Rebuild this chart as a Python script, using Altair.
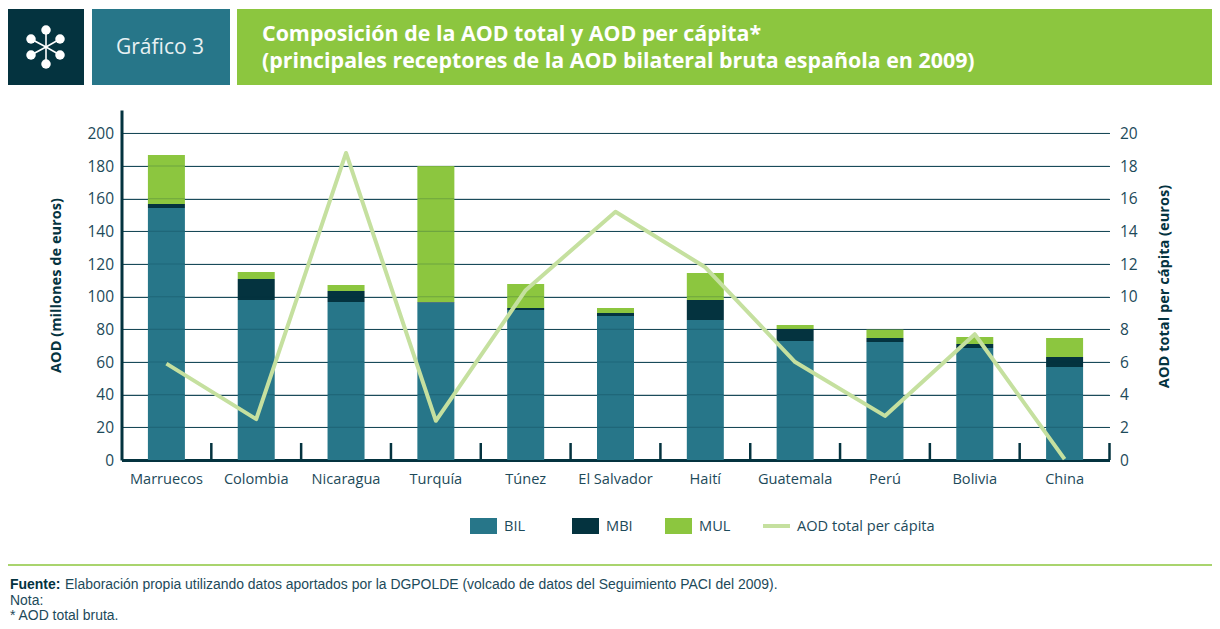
import altair as alt
import pandas as pd

countries = ["Marruecos", "Colombia", "Nicaragua", "Turquía", "Túnez", "El Salvador", "Haití", "Guatemala", "Perú", "Bolivia", "China"]
bil = [154.3, 98, 96.8, 96.5, 91.9, 88.2, 85.7, 72.9, 72.3, 68.6, 57]
mbi = [2.5, 12.8, 6.7, 0.3, 1.2, 1.8, 12.3, 7.3, 2.4, 2.4, 6]
mul = [30, 4.3, 3.7, 83.2, 14.7, 3.1, 16.5, 2.5, 5.2, 4.3, 11.7]
per_capita = [5.9, 2.5, 18.8, 2.4, 10.4, 15.2, 11.8, 6.0, 2.7, 7.7, 0.05]
series = ["BIL", "MBI", "MUL"]
line_name = "AOD total per cápita"
left_ticks = list(range(0, 201, 20))
right_ticks = list(range(0, 21, 2))

DARK = "#04333f"
TEAL = "#277689"
GREEN = "#8cc63f"
LINE = "#c5e09f"
TEXT = "#1d4a5a"
FONT = "Open Sans"
NOTE_FONT = "Liberation Sans"

OX, OY = 121.5, 110
def px(v): return alt.value(v - OX)
def py(v): return alt.value(v - OY)

rows = []
for i, c in enumerate(countries):
    for j, (s, vals) in enumerate(zip(series, [bil, mbi, mul])):
        rows.append({"pais": c, "serie": s, "valor": vals[i], "ord": j})
bars_df = pd.DataFrame(rows)
line_df = pd.DataFrame({"pais": countries, "aod": per_capita})
x_axis = alt.Axis(title=None, labelAngle=0, ticks=False, labelFontSize=14.6, labelColor=TEXT,
                  labelFont=FONT, labelPadding=11, domainColor=DARK, domainWidth=3, grid=False)
x_enc = alt.X("pais:N", sort=countries, scale=alt.Scale(padding=0), axis=x_axis)

bars = alt.Chart(bars_df).mark_bar(size=37).encode(
    x=x_enc,
    y=alt.Y("valor:Q", stack="zero", scale=alt.Scale(domain=[0, 214.3], nice=False),
            axis=alt.Axis(title=None, values=left_ticks, ticks=False, labelFontSize=15.5, labelColor=TEXT, labelFont=FONT,
                          labelPadding=8, domainColor=DARK, domainWidth=3, grid=True, gridColor="#1d4f5e", gridWidth=1.1)),
    color=alt.Color("serie:N", scale=alt.Scale(domain=series, range=[TEAL, DARK, GREEN]), legend=None),
    order=alt.Order("ord:Q"),
)

grid_over = alt.Chart(pd.DataFrame({"v": left_ticks[1:]})).mark_rule(color=DARK, strokeWidth=1.1, opacity=0.22).encode(
    y=alt.Y("v:Q", scale=alt.Scale(domain=[0, 214.3], nice=False), axis=None),
)

line = alt.Chart(line_df).mark_line(color=LINE, strokeWidth=4, strokeJoin="round").encode(
    x=x_enc,
    y=alt.Y("aod:Q", scale=alt.Scale(domain=[0, 21.43], nice=False),
            axis=alt.Axis(title=None, orient="right", values=right_ticks, ticks=False, domain=False, grid=False,
                          labelFontSize=15.5, labelColor=TEXT, labelFont=FONT, labelPadding=10)),
)

cat_ticks = alt.Chart(pd.DataFrame({"pais": countries})).mark_rule(color=DARK, strokeWidth=2.5).encode(
    x=alt.X("pais:N", sort=countries, bandPosition=1, scale=alt.Scale(padding=0), axis=x_axis),
    y=py(443), y2=py(460),
)

blank = alt.Data(values=[{}])
def rect(x0, x1, y0, y1, color):
    return alt.Chart(blank).mark_rect(color=color).encode(x=px(x0), x2=px(x1), y=py(y0), y2=py(y1))
def text(s, x, y, size=14.6, weight="normal", color=TEXT, angle=0, align="left", font=FONT):
    return alt.Chart(blank).mark_text(text=s, font=font, fontSize=size, fontWeight=weight, color=color,
                                      angle=angle, align=align, baseline="middle").encode(x=px(x), y=py(y))
def spoke(x0, y0, x1, y1):
    return alt.Chart(blank).mark_rule(color="white", strokeWidth=1.6).encode(x=px(x0), x2=px(x1), y=py(y0), y2=py(y1))
def dot(x, y):
    return alt.Chart(blank).mark_point(filled=True, color="white", opacity=1, size=90).encode(x=px(x), y=py(y))

deco = [
    rect(8, 84, 9, 85, DARK),
    rect(92, 230, 9, 85, TEAL),
    rect(237, 1218, 9, 85, GREEN),
    text("Gráfico 3", 116, 48, size=21, color="#e8f1f3"),
    text("Composición de la AOD total y AOD per cápita*", 262, 35, size=21.4, weight="bold", color="white"),
    text("(principales receptores de la AOD bilateral bruta española en 2009)", 262, 62, size=21.4, weight="bold", color="white"),
    text("AOD (millones de euros)", 57, 285.5, size=14.6, weight="bold", color=DARK, angle=270, align="center"),
    text("AOD total per cápita (euros)", 1165, 286.5, size=14.6, weight="bold", color=DARK, angle=270, align="center"),
    rect(8, 1218, 564, 566, "#a9d46e"),
    text("Fuente:", 10, 585, size=13.95, weight="bold", color=DARK, font=NOTE_FONT),
    text("Elaboración propia utilizando datos aportados por la DGPOLDE (volcado de datos del Seguimiento PACI del 2009).", 65, 585, size=13.95, font=NOTE_FONT),
    text("Nota:", 10, 600.5, size=13.95, font=NOTE_FONT),
    text("* AOD total bruta.", 10, 615.5, size=13.95, font=NOTE_FONT),
]
cx, cy = 46, 47
for (a, b) in [(46, 30), (60, 39), (60, 55), (46, 64), (31, 55), (31, 39)]:
    deco.append(spoke(cx, cy, a, b))
    deco.append(dot(a, b))

legend_x = [470, 572, 665]
legend = []
for s, c, x in zip(series, [TEAL, DARK, GREEN], legend_x):
    legend.append(rect(x, x + 27, 518, 534, c))
    legend.append(text(s, x + 34, 527))
legend.append(alt.Chart(blank).mark_rule(color=LINE, strokeWidth=4).encode(x=px(763), x2=px(790), y=py(526)))
legend.append(text(line_name, 797, 527))

chart = alt.layer(bars, grid_over, cat_ticks, line, *deco, *legend).resolve_scale(y="independent").properties(
    width=988, height=350,
    autosize=alt.AutoSizeParams(type="none"),
    padding={"left": 113.5, "top": 102, "right": 102.5, "bottom": 161},
    background="white",
).configure_view(stroke=None)

chart.save("out.html", embed_options={"renderer": "svg", "actions": False})
